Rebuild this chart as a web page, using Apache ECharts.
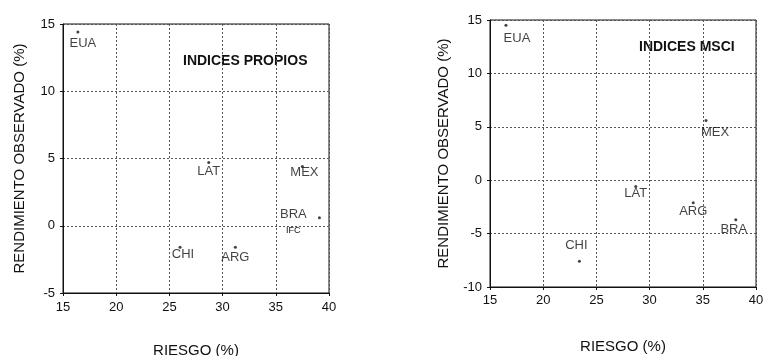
<!DOCTYPE html>
<html>
<head>
<meta charset="utf-8">
<script src="https://cdn.jsdelivr.net/npm/echarts@6/dist/echarts.min.js"></script>
<style>
  html, body { margin: 0; padding: 0; background: #fff; }
  #chart { width: 764px; height: 356px; }
</style>
</head>
<body>
<div id="chart"></div>
<script>
// Riesgo vs. rendimiento observado por mercado
const countriesPropios = ['EUA', 'LAT', 'MEX', 'BRA', 'CHI', 'ARG'];
const riesgoPropios = [16.4, 28.7, 37.5, 39.1, 26.0, 31.2];
const rendPropios = [14.4, 4.7, 4.4, 0.6, -1.6, -1.6];

const countriesMsci = ['EUA', 'MEX', 'LAT', 'ARG', 'BRA', 'CHI'];
const riesgoMsci = [16.5, 35.3, 28.7, 34.1, 38.1, 23.4];
const rendMsci = [14.5, 5.6, -0.6, -2.1, -3.7, -7.6];

const xTicks = [15, 20, 25, 30, 35, 40];
const yTicksPropios = [-5, 0, 5, 10, 15];
const yTicksMsci = [-10, -5, 0, 5, 10, 15];

// label placement relative to each dot (pixels)
const offsetsPropios = {
  EUA: [5, 11], LAT: [0, 9], MEX: [2, 6], BRA: [-26, -3], CHI: [3, 7], ARG: [0, 10]
};
const offsetsMsci = {
  EUA: [11, 13], MEX: [9, 12], LAT: [0, 7], ARG: [0, 9], BRA: [-2, 10], CHI: [-3, -16]
};

const FONT = '"Liberation Sans", Arial, sans-serif';
const INK = '#111111';

function points(names, xs, ys, offsets) {
  return names.map((n, i) => ({
    name: n,
    value: [xs[i], ys[i]],
    label: { offset: offsets[n] }
  }));
}

function xAxis(gridIndex, margin, gap) {
  return {
    gridIndex, type: 'value', min: xTicks[0], max: xTicks[xTicks.length - 1], interval: 5,
    name: 'RIESGO (%)', nameLocation: 'middle', nameGap: gap,
    nameTextStyle: { fontFamily: FONT, fontSize: 15, color: INK },
    axisLine: { onZero: false, lineStyle: { color: INK, width: 1 } },
    axisTick: { show: true, length: 3, lineStyle: { color: INK } },
    axisLabel: { fontFamily: FONT, fontSize: 13, color: INK, margin },
    splitLine: { show: true, lineStyle: { color: '#555', width: 1, type: [2, 2] } }
  };
}

function yAxis(gridIndex, ticks, gap) {
  return {
    gridIndex, type: 'value', min: ticks[0], max: ticks[ticks.length - 1], interval: 5,
    name: 'RENDIMIENTO OBSERVADO (%)', nameLocation: 'middle', nameGap: gap,
    nameTextStyle: { fontFamily: FONT, fontSize: 15, color: INK },
    axisLine: { onZero: false, lineStyle: { color: INK, width: 1 } },
    axisTick: { show: true, length: 3, lineStyle: { color: INK } },
    axisLabel: { fontFamily: FONT, fontSize: 13, color: INK, margin: 8, padding: [0, 0, 6, 0] },
    splitLine: { show: true, lineStyle: { color: '#555', width: 1, type: [2, 2] } }
  };
}

function scatter(i, data) {
  return {
    type: 'scatter', xAxisIndex: i, yAxisIndex: i,
    symbolSize: 3, itemStyle: { color: INK },
    data,
    label: {
      show: true, position: 'inside', formatter: '{b}',
      fontFamily: FONT, fontSize: 13, color: INK, textBorderWidth: 0
    },
    silent: true
  };
}

const gridBase = { show: true, borderColor: INK, borderWidth: 1, containLabel: false, outerBoundsMode: 'none' };

const chart = echarts.init(document.getElementById('chart'), null, { renderer: 'canvas' });
chart.setOption({
  backgroundColor: '#ffffff',
  animation: false,
  grid: [
    Object.assign({ left: 63, top: 24, width: 266, height: 269 }, gridBase),
    Object.assign({ left: 490, top: 20, width: 266, height: 267 }, gridBase)
  ],
  xAxis: [xAxis(0, 8, 50), xAxis(1, 7, 52)],
  yAxis: [yAxis(0, yTicksPropios, 36), yAxis(1, yTicksMsci, 39)],
  series: [
    scatter(0, points(countriesPropios, riesgoPropios, rendPropios, offsetsPropios)),
    scatter(1, points(countriesMsci, riesgoMsci, rendMsci, offsetsMsci))
  ],
  graphic: [
    { type: 'text', left: 183, top: 54,
      style: { text: 'INDICES PROPIOS', font: 'bold 14px ' + FONT, fill: INK } },
    { type: 'text', left: 639, top: 40,
      style: { text: 'INDICES MSCI', font: 'bold 14px ' + FONT, fill: INK } },
    { type: 'text', left: 286, top: 226,
      style: { text: 'IFC', font: '9px ' + FONT, fill: INK } }
  ]
});
</script>
</body>
</html>
